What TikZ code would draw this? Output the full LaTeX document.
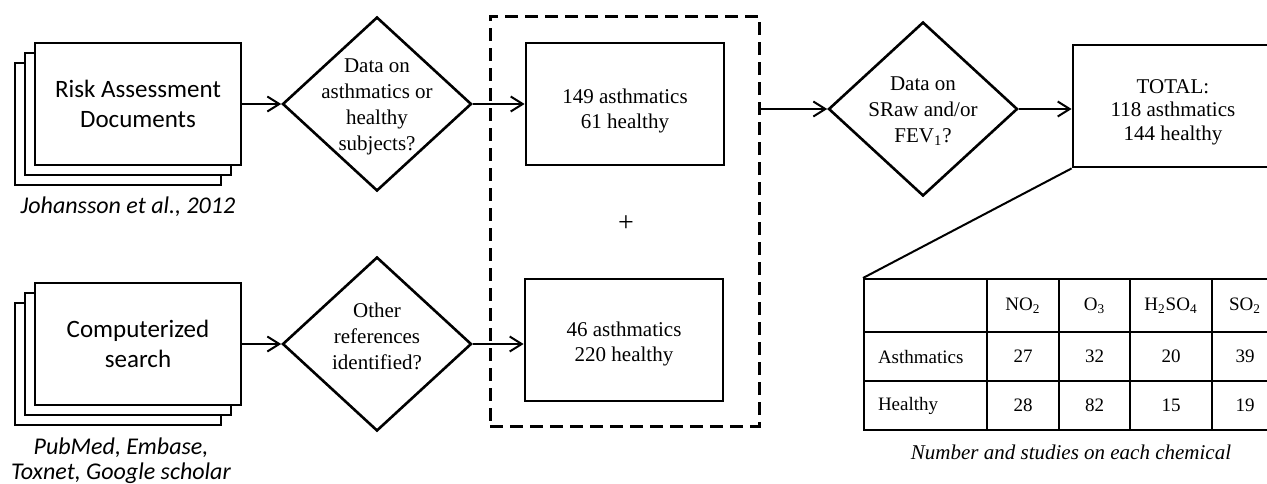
\documentclass[tikz,border=0pt]{standalone}
\usepackage{fontspec}
\setmainfont{Liberation Serif}
\newfontfamily\calibri{Carlito}
\usetikzlibrary{shapes.geometric, arrows.meta, shadows, matrix, positioning}

\begin{document}
\begin{tikzpicture}[x=0.5pt, y=-0.5pt,
	stapel/.style={draw, line width=1.4pt, fill=white, minimum width=103pt, minimum height=61pt, align=center,
		font=\calibri\fontsize{12.5}{15}\selectfont,
		copy shadow={shadow xshift=-10pt, shadow yshift=-10pt},
		copy shadow={shadow xshift=-5pt, shadow yshift=-5pt}},
	quelle/.style={align=center, font=\calibri\itshape\fontsize{12}{12.5}\selectfont},
	frage/.style={diamond, draw, line width=1.3pt, minimum width=94.5pt, minimum height=87pt, inner sep=0pt},
	fragetext/.style={align=center, font=\fontsize{10.5}{13}\selectfont},
	gruppe/.style={draw, line width=1.4pt, minimum width=99pt, minimum height=61pt},
	gruppetext/.style={align=center, font=\fontsize{10.5}{12.5}\selectfont},
	pfeil/.style={line width=1pt, -{Straight Barb[length=6pt, width=7.5pt]}}]

%Rahmen
\useasboundingbox (0,0) rectangle (1267,483);
\clip (0,0) rectangle (1267,483);

%Quellen
\node[stapel] (docs) at (138,104) {Risk Assessment\\Documents};
\node[stapel] (search) at (138,344) {Computerized\\search};
\node[quelle] (docsnote) at (128,207) {Johansson et al., 2012};
\node[quelle] (searchnote) at (121,460.5) {PubMed, Embase,\\Toxnet, Google scholar};

%Fragen
\node[frage, label={[fragetext, yshift=-1.2pt]center:{Data on\\asthmatics or\\healthy\\subjects?}}] (q1) at (377,104) {};
\node[frage, label={[fragetext, yshift=4pt]center:{Other\\references\\identified?}}] (q2) at (377,344) {};
\node[frage, label={[fragetext, yshift=-1.2pt]center:{Data on\\SRaw and/or\\FEV\textsubscript{1}?}}] (q3) at (923,109) {};

%Gruppen
\node[draw, line width=1.5pt, dash pattern=on 6.5pt off 3.5pt, minimum width=134.5pt, minimum height=205pt] (pool) at (624.5,221) {};
\node[gruppe, label={[gruppetext, yshift=-3.5pt]center:{149 asthmatics\\61 healthy}}] (grp1) at (625,104) {};
\node[gruppe, label={[gruppetext, yshift=-1.8pt]center:{46 asthmatics\\220 healthy}}] (grp2) at (624,340) {};
\node[font=\fontsize{14}{14}\selectfont] (plus) at (626,224) {+};

%Summe
\node[gruppe, minimum width=100pt, label={[gruppetext, font=\fontsize{10.5}{11.75}\selectfont, yshift=-3pt]center:{TOTAL:\\118 asthmatics\\144 healthy}}] (total) at (1173,106) {};

%Tabelle
\matrix (tab) [matrix of nodes, nodes in empty cells, anchor=north west, inner sep=0pt,
	column sep=-0.6pt, row sep=-0.6pt,
	nodes={draw, line width=0.6pt, anchor=center, inner sep=0pt, minimum height=24.5pt, font=\fontsize{9.5}{11}\selectfont},
	row 1/.style={nodes={minimum height=26.5pt}},
	column 1/.style={nodes={text width=47.5pt, inner xsep=7pt, align=left}},
	column 2/.style={nodes={minimum width=36pt}},
	column 3/.style={nodes={minimum width=35.5pt}},
	column 4/.style={nodes={minimum width=41pt}},
	column 5/.style={nodes={minimum width=33pt}}] at (863,278) {
	 & NO\textsubscript{2} & O\textsubscript{3} & H\textsubscript{2}SO\textsubscript{4} & SO\textsubscript{2} \\
	Asthmatics & 27 & 32 & 20 & 39 \\
	Healthy & 28 & 82 & 15 & 19 \\
};
\node[below=3.5pt of tab, font=\itshape\fontsize{10.5}{12}\selectfont] (tabnote) {Number and studies on each chemical};

%Pfeile
\draw[pfeil] (docs.east) -- (q1.west);
\draw[pfeil] (search.east) -- (q2.west);
\draw[pfeil] (q1.east) -- (grp1.west);
\draw[pfeil] (q2.east) -- (q2.east -| grp2.west);
\draw[pfeil] (pool.east |- q3.west) -- (q3.west);
\draw[pfeil] (q3.east) -- (q3.east -| total.west);
\draw[line width=1pt] (total.south west) -- (tab.north west);

\end{tikzpicture}
\end{document}
